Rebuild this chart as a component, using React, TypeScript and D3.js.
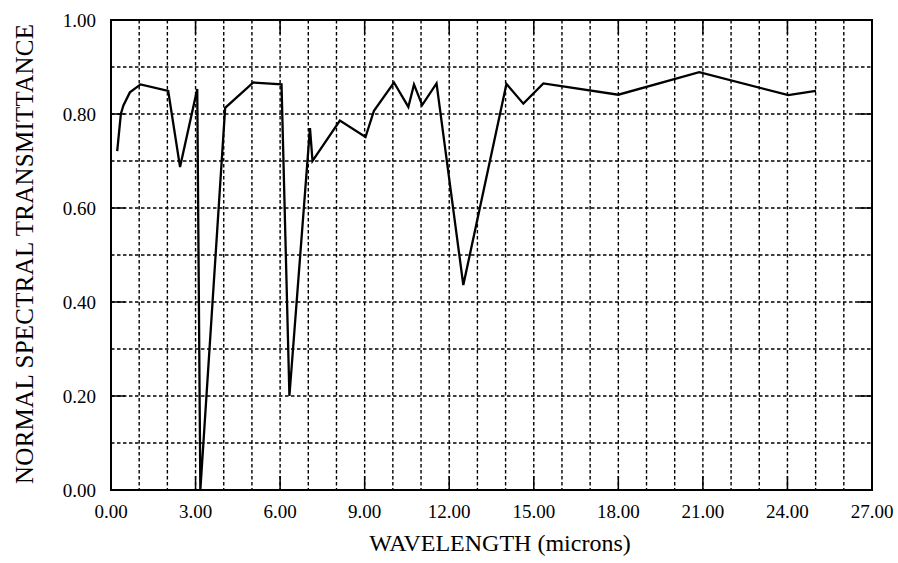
import React from "react";
import * as d3 from "d3";

const wavelength = [0.22, 0.35, 0.44, 0.67, 1.05, 2.03, 2.45, 3.06, 3.17, 4.05, 5.05, 6.05, 6.33, 7.06, 7.15, 8.12, 9.03, 9.33, 10.04, 10.55, 10.75, 11.04, 11.55, 12.5, 14.03, 14.63, 15.34, 18.0, 20.87, 24.03, 25.01];
const transmittance = [0.721, 0.8, 0.818, 0.846, 0.863, 0.849, 0.687, 0.853, 0.0, 0.813, 0.867, 0.863, 0.2, 0.77, 0.7, 0.786, 0.751, 0.807, 0.867, 0.815, 0.863, 0.819, 0.865, 0.436, 0.864, 0.822, 0.865, 0.841, 0.889, 0.84, 0.849];

const xTicks = [0, 3, 6, 9, 12, 15, 18, 21, 24, 27];
const yTicks = [0, 0.2, 0.4, 0.6, 0.8, 1.0];
const xGrid = d3.range(1, 27, 1);
const yGrid = [0.1, 0.2, 0.3, 0.4, 0.5, 0.6, 0.7, 0.8, 0.9];

const W = 898;
const H = 563;
const left = 111;
const right = 872;
const top = 20;
const bottom = 490;

export default function App() {
  const x = d3.scaleLinear().domain([0, 27]).range([left, right]);
  const y = d3.scaleLinear().domain([0, 1]).range([bottom, top]);
  const pts = wavelength.map((w, i) => [w, transmittance[i]] as [number, number]);
  const line = d3.line<[number, number]>().x((d) => x(d[0])).y((d) => y(d[1]));
  const font = "'Liberation Serif', 'Times New Roman', serif";
  const tick = 14;

  return (
    <svg width={W} height={H} style={{ position: "absolute", left: 0, top: 0, background: "#fff" }}>
      <rect x={0} y={0} width={W} height={H} fill="#fff" />
      {xGrid.map((v) => (
        <line key={"gx" + v} x1={x(v)} x2={x(v)} y1={top} y2={bottom} stroke="#000" strokeWidth={1.4} strokeDasharray="3.5,2.5" />
      ))}
      {yGrid.map((v) => (
        <line key={"gy" + v} x1={left} x2={right} y1={y(v)} y2={y(v)} stroke="#000" strokeWidth={1.4} strokeDasharray="3.5,2.5" />
      ))}
      {xTicks.map((v) => (
        <g key={"tx" + v}>
          <line x1={x(v)} x2={x(v)} y1={bottom} y2={bottom - tick} stroke="#000" strokeWidth={1.5} />
          <line x1={x(v)} x2={x(v)} y1={top} y2={top + tick} stroke="#000" strokeWidth={1.5} />
          <text x={x(v)} y={518} textAnchor="middle" fontFamily={font} fontSize={19} fill="#000">
            {v.toFixed(2)}
          </text>
        </g>
      ))}
      {yTicks.map((v) => (
        <g key={"ty" + v}>
          <line x1={left} x2={left + tick} y1={y(v)} y2={y(v)} stroke="#000" strokeWidth={1.5} />
          <line x1={right} x2={right - tick} y1={y(v)} y2={y(v)} stroke="#000" strokeWidth={1.5} />
          <text x={96} y={y(v) + 7} textAnchor="end" fontFamily={font} fontSize={19} fill="#000">
            {v.toFixed(2)}
          </text>
        </g>
      ))}
      <rect x={left} y={top} width={right - left} height={bottom - top} fill="none" stroke="#000" strokeWidth={2} />
      <path d={line(pts) || ""} fill="none" stroke="#000" strokeWidth={2.3} strokeLinejoin="miter" />
      <text x={500} y={551} textAnchor="middle" fontFamily={font} fontSize={24} fill="#000">
        WAVELENGTH (microns)
      </text>
      <text
        transform="translate(33,254) rotate(-90)"
        textAnchor="middle"
        fontFamily={font}
        fontSize={25}
        fill="#000"
        textLength={460}
        lengthAdjust="spacing"
      >
        NORMAL SPECTRAL TRANSMITTANCE
      </text>
    </svg>
  );
}
